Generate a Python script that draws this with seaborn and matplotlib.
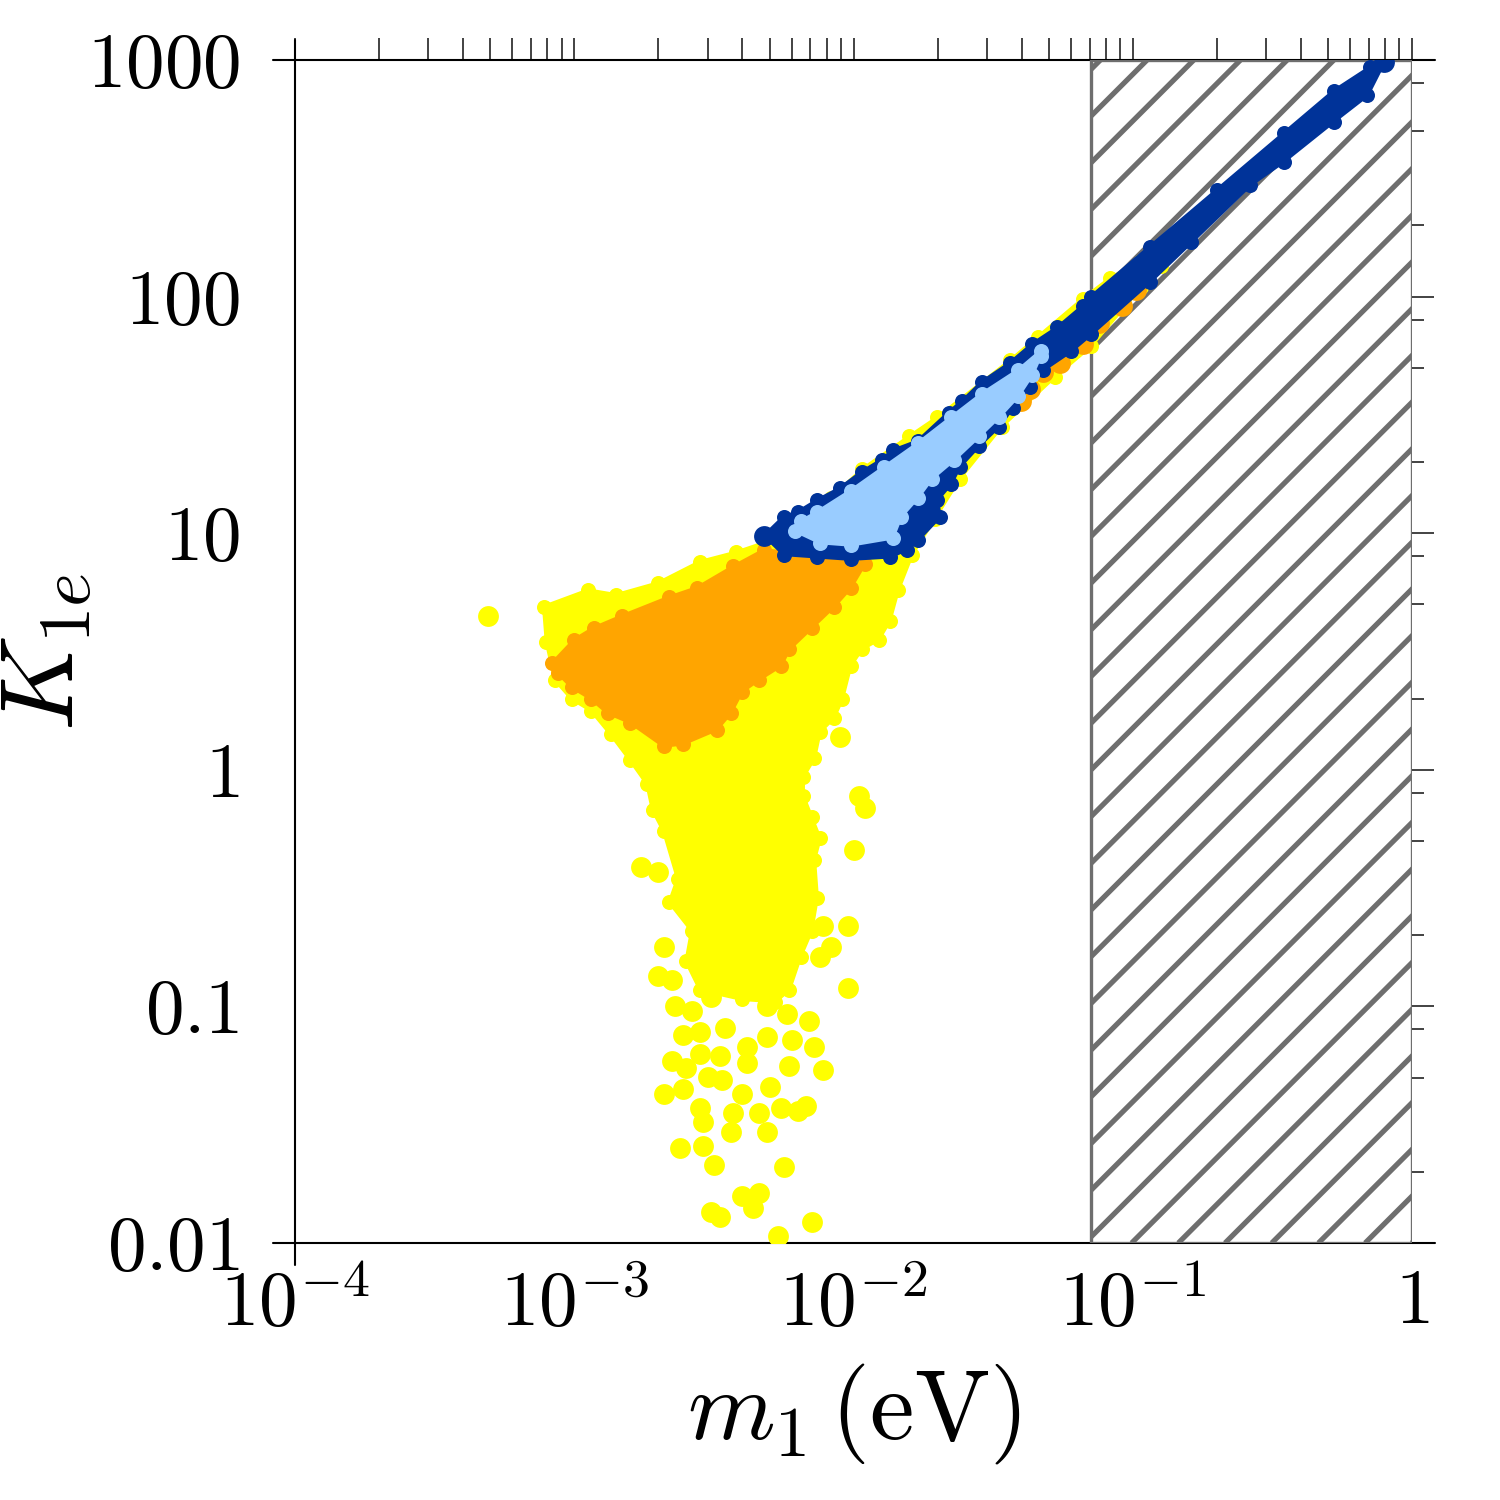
import numpy as np
import matplotlib
matplotlib.use("Agg")
import matplotlib.pyplot as plt
from matplotlib.ticker import LogLocator, NullFormatter
from matplotlib.collections import LineCollection
import seaborn as sns

# all values are log10(m1 / eV) and log10(K_1e)

# yellow: outline of the dense cloud + scattered points of the tail
yellow_edge_lm = [-3.11, -2.95, -2.85, -2.70, -2.55, -2.42, -2.32, -2.23, -2.08, -1.97,
                  -1.80, -1.70, -1.44, -1.34, -1.18, -1.08, -0.97, -0.90, -0.97, -1.15,
                  -1.28, -1.47, -1.62, -1.71, -1.79, -1.84, -1.87, -1.91, -1.97, -2.01,
                  -2.04, -2.07, -2.12, -2.14, -2.18, -2.18, -2.15, -2.12, -2.14, -2.13,
                  -2.15, -2.19, -2.23, -2.28, -2.40, -2.55, -2.60, -2.58, -2.66, -2.63,
                  -2.68, -2.72, -2.74, -2.80, -2.87, -2.94, -3.01, -3.07, -3.10]
yellow_edge_lk = [0.69, 0.76, 0.74, 0.79, 0.88, 0.92, 0.96, 1.02, 1.15, 1.27,
                  1.41, 1.49, 1.73, 1.83, 1.99, 2.08, 2.15, 2.13, 2.04, 1.79,
                  1.66, 1.45, 1.23, 1.06, 0.91, 0.76, 0.63, 0.55, 0.51, 0.44,
                  0.30, 0.22, 0.16, 0.05, -0.03, -0.11, -0.20, -0.29, -0.38, -0.54,
                  -0.68, -0.79, -0.93, -0.98, -0.97, -0.93, -0.81, -0.68, -0.56, -0.46,
                  -0.26, -0.17, -0.06, 0.04, 0.15, 0.25, 0.30, 0.38, 0.54]
yellow_lm = [-3.31, -2.76, -2.70, -2.68, -2.70, -2.65, -2.64, -2.58, -2.61, -2.55,
             -2.65, -2.60, -2.68, -2.61, -2.55, -2.54, -2.62, -2.54, -2.50, -2.51,
             -2.48, -2.40, -2.34, -2.36, -2.27, -2.25, -2.15, -2.44, -2.43, -2.34,
             -2.31, -2.26, -2.20, -2.17, -2.40, -2.30, -2.52, -2.47, -2.48, -2.55,
             -2.38, -2.23, -2.11, -2.14, -2.22, -2.31, -2.38, -2.16, -2.24, -2.31,
             -2.46, -2.51, -2.34, -2.02, -2.08, -2.02, -2.00, -1.98, -1.96, -2.05,
             -2.11, -2.12]
yellow_lk = [0.65, -0.41, -0.43, -0.75, -0.87, -0.89, -1.00, -1.02, -1.12, -1.11,
             -1.23, -1.26, -1.37, -1.35, -1.43, -1.49, -1.60, -1.59, -1.67, -1.87,
             -1.89, -1.80, -1.79, -1.85, -1.97, -1.68, -1.91, -1.53, -1.45, -1.45,
             -1.53, -1.43, -1.44, -1.42, -1.37, -1.34, -1.30, -1.31, -1.21, -1.20,
             -1.24, -1.25, -1.27, -1.17, -1.14, -1.13, -1.17, -1.06, -1.03, -1.00,
             -1.09, -0.96, -0.93, -0.92, -0.75, -0.66, -0.34, -0.11, -0.16, 0.14,
             -0.66, -0.79]

# orange
orange_edge_lm = [-3.08, -3.00, -2.93, -2.83, -2.66, -2.56, -2.43, -2.32, -2.25, -2.12,
                  -1.96, -2.01, -2.07, -2.15, -2.23, -2.26, -2.34, -2.40, -2.44, -2.49,
                  -2.61, -2.68, -2.80, -2.88, -2.94, -3.01, -3.06]
orange_edge_lk = [0.45, 0.55, 0.60, 0.65, 0.73, 0.77, 0.86, 0.93, 0.92, 0.90,
                  0.87, 0.77, 0.69, 0.60, 0.51, 0.44, 0.38, 0.33, 0.24, 0.17,
                  0.11, 0.10, 0.20, 0.24, 0.30, 0.35, 0.41]
orange_lm = [-1.40, -1.37, -1.32, -1.26, -1.18, -1.12, -1.04, -0.99]
orange_lk = [1.56, 1.61, 1.68, 1.72, 1.80, 1.89, 1.96, 2.03]

# dark blue
blue_edge_lm = [-2.32, -2.25, -2.20, -2.13, -2.05, -1.97, -1.90, -1.86, -1.77, -1.66,
                -1.61, -1.54, -1.44, -1.36, -1.27, -1.18, -1.15, -0.94, -0.70, -0.46,
                -0.28, -0.15, -0.10, -0.16, -0.28, -0.46, -0.58, -0.79, -0.94, -1.15,
                -1.22, -1.32, -1.37, -1.43, -1.48, -1.55, -1.62, -1.65, -1.70, -1.69,
                -1.77, -1.81, -1.87, -2.01, -2.13, -2.25]
blue_edge_lk = [0.99, 1.07, 1.09, 1.14, 1.19, 1.26, 1.31, 1.35, 1.39, 1.51,
                1.56, 1.64, 1.72, 1.80, 1.87, 1.96, 2.00, 2.21, 2.45, 2.69,
                2.87, 2.97, 2.99, 2.85, 2.74, 2.57, 2.47, 2.23, 2.06, 1.84,
                1.77, 1.69, 1.62, 1.53, 1.45, 1.37, 1.28, 1.21, 1.14, 1.07,
                0.97, 0.93, 0.90, 0.89, 0.90, 0.91]
blue_lm = [-2.32, -0.10]
blue_lk = [0.99, 2.99]

# light blue
light_edge_lm = [-2.21, -2.19, -2.13, -2.01, -1.89, -1.77, -1.65, -1.54, -1.41, -1.33,
                 -1.33, -1.36, -1.41, -1.48, -1.55, -1.64, -1.72, -1.77, -1.83, -1.86,
                 -2.01, -2.12]
light_edge_lk = [1.01, 1.05, 1.09, 1.18, 1.28, 1.38, 1.49, 1.59, 1.69, 1.77,
                 1.75, 1.67, 1.58, 1.49, 1.41, 1.31, 1.23, 1.15, 1.07, 0.98,
                 0.95, 0.96]

planck_bound = 0.0706  # eV, start of the hatched band

x_ticks = [1e-4, 1e-3, 1e-2, 1e-1, 1]
x_tick_labels = [r"$10^{-4}$", r"$10^{-3}$", r"$10^{-2}$", r"$10^{-1}$", r"$1$"]
y_ticks = [0.01, 0.1, 1, 10, 100, 1000]
y_tick_labels = [r"$0.01$", r"$0.1$", r"$1$", r"$10$", r"$100$", r"$1000$"]

colors = {"yellow": "#ffff00", "orange": "#ffa500", "blue": "#003399", "light": "#99ccff"}
hatch_gray = "#6e6e6e"

sns.set_theme(style="white")
plt.rcParams["font.family"] = ["serif"]
plt.rcParams["font.serif"] = ["cmr10", "DejaVu Serif"]
plt.rcParams["mathtext.fontset"] = "cm"
plt.rcParams["axes.unicode_minus"] = False
for key in ("text.color", "axes.labelcolor", "xtick.color", "ytick.color"):
    plt.rcParams[key] = "black"

fig = plt.figure(figsize=(5, 5), dpi=300)
ax = fig.add_axes([0.1967, 0.1713, 0.7447, 0.7887])
ax.set_xscale("log")
ax.set_yscale("log")
ax.set_xlim(1e-4, 1)
ax.set_ylim(1e-2, 1e3)

# excluded region, hatched with 45 degree lines ~47 px apart
band = ax.axvspan(planck_bound, 1, facecolor="white", edgecolor=hatch_gray,
                  lw=0.8, zorder=1.5)
ax_w, ax_h = 1117.0, 1183.0      # axes size in pixels
step, first_top = 46.7, 852.0    # hatch spacing and first crossing of the top edge
segs = []
for k in range(-3, 34):
    xt = first_top + k * step
    segs.append([((xt - ax_h) / ax_w, 0.0), (xt / ax_w, 1.0)])
hatch = LineCollection(segs, colors=hatch_gray, linewidths=1.25,
                       transform=ax.transAxes, zorder=1.6)
ax.add_collection(hatch)
hatch.set_clip_path(band)

marker_s = 25
edge_s = 13
layers = [
    ("yellow", yellow_edge_lm, yellow_edge_lk, yellow_lm, yellow_lk, 2),
    ("orange", orange_edge_lm, orange_edge_lk, orange_lm, orange_lk, 3),
    ("blue", blue_edge_lm, blue_edge_lk, blue_lm, blue_lk, 4),
    ("light", light_edge_lm, light_edge_lk, [], [], 5),
]
for name, elm, elk, plm, plk, z in layers:
    c = colors[name]
    ex, ey = 10 ** np.array(elm), 10 ** np.array(elk)
    ax.fill(ex, ey, color=c, ec=c, lw=0.8, joinstyle="round", zorder=z)
    sns.scatterplot(x=ex, y=ey, color=c, s=edge_s, linewidth=0, ax=ax,
                    zorder=z, legend=False)
    if len(plm):
        sns.scatterplot(x=10 ** np.array(plm), y=10 ** np.array(plk), color=c,
                        s=marker_s, linewidth=0, ax=ax, zorder=z, legend=False)

# frame lines that run a little past the corners
for side in ("left", "right", "top", "bottom"):
    ax.spines[side].set_visible(False)
for yy in (0, 1):
    ax.plot([-0.0197, 1.0206], [yy, yy], transform=ax.transAxes, color="black",
            lw=0.5, clip_on=False, zorder=1)
ax.plot([0, 0], [-0.0186, 1.0169], transform=ax.transAxes, color="black",
        lw=0.5, clip_on=False, zorder=1)

ax.set_xticks(x_ticks, labels=x_tick_labels)
ax.set_yticks(y_ticks, labels=y_tick_labels)
ax.xaxis.set_minor_locator(LogLocator(base=10, subs=np.arange(2, 10), numticks=50))
ax.yaxis.set_minor_locator(LogLocator(base=10, subs=(2, 5, 8), numticks=50))
ax.xaxis.set_minor_formatter(NullFormatter())
ax.yaxis.set_minor_formatter(NullFormatter())
ax.tick_params(which="both", direction="out", top=True, right=True,
               color="#222222", width=0.4)
ax.tick_params(axis="x", which="both", length=5.2, labelsize=18.5, pad=1)
ax.tick_params(axis="y", which="major", length=5.3, labelsize=18.5, pad=8)
ax.tick_params(axis="y", which="minor", length=2.9)

ax.set_xlabel(r"$m_1\,(\mathrm{eV})$", fontsize=24, labelpad=5)
ax.set_ylabel(r"$K_{1e}$", fontsize=25, labelpad=-2)
ax.grid(False)

fig.savefig("out.png", dpi=300)
